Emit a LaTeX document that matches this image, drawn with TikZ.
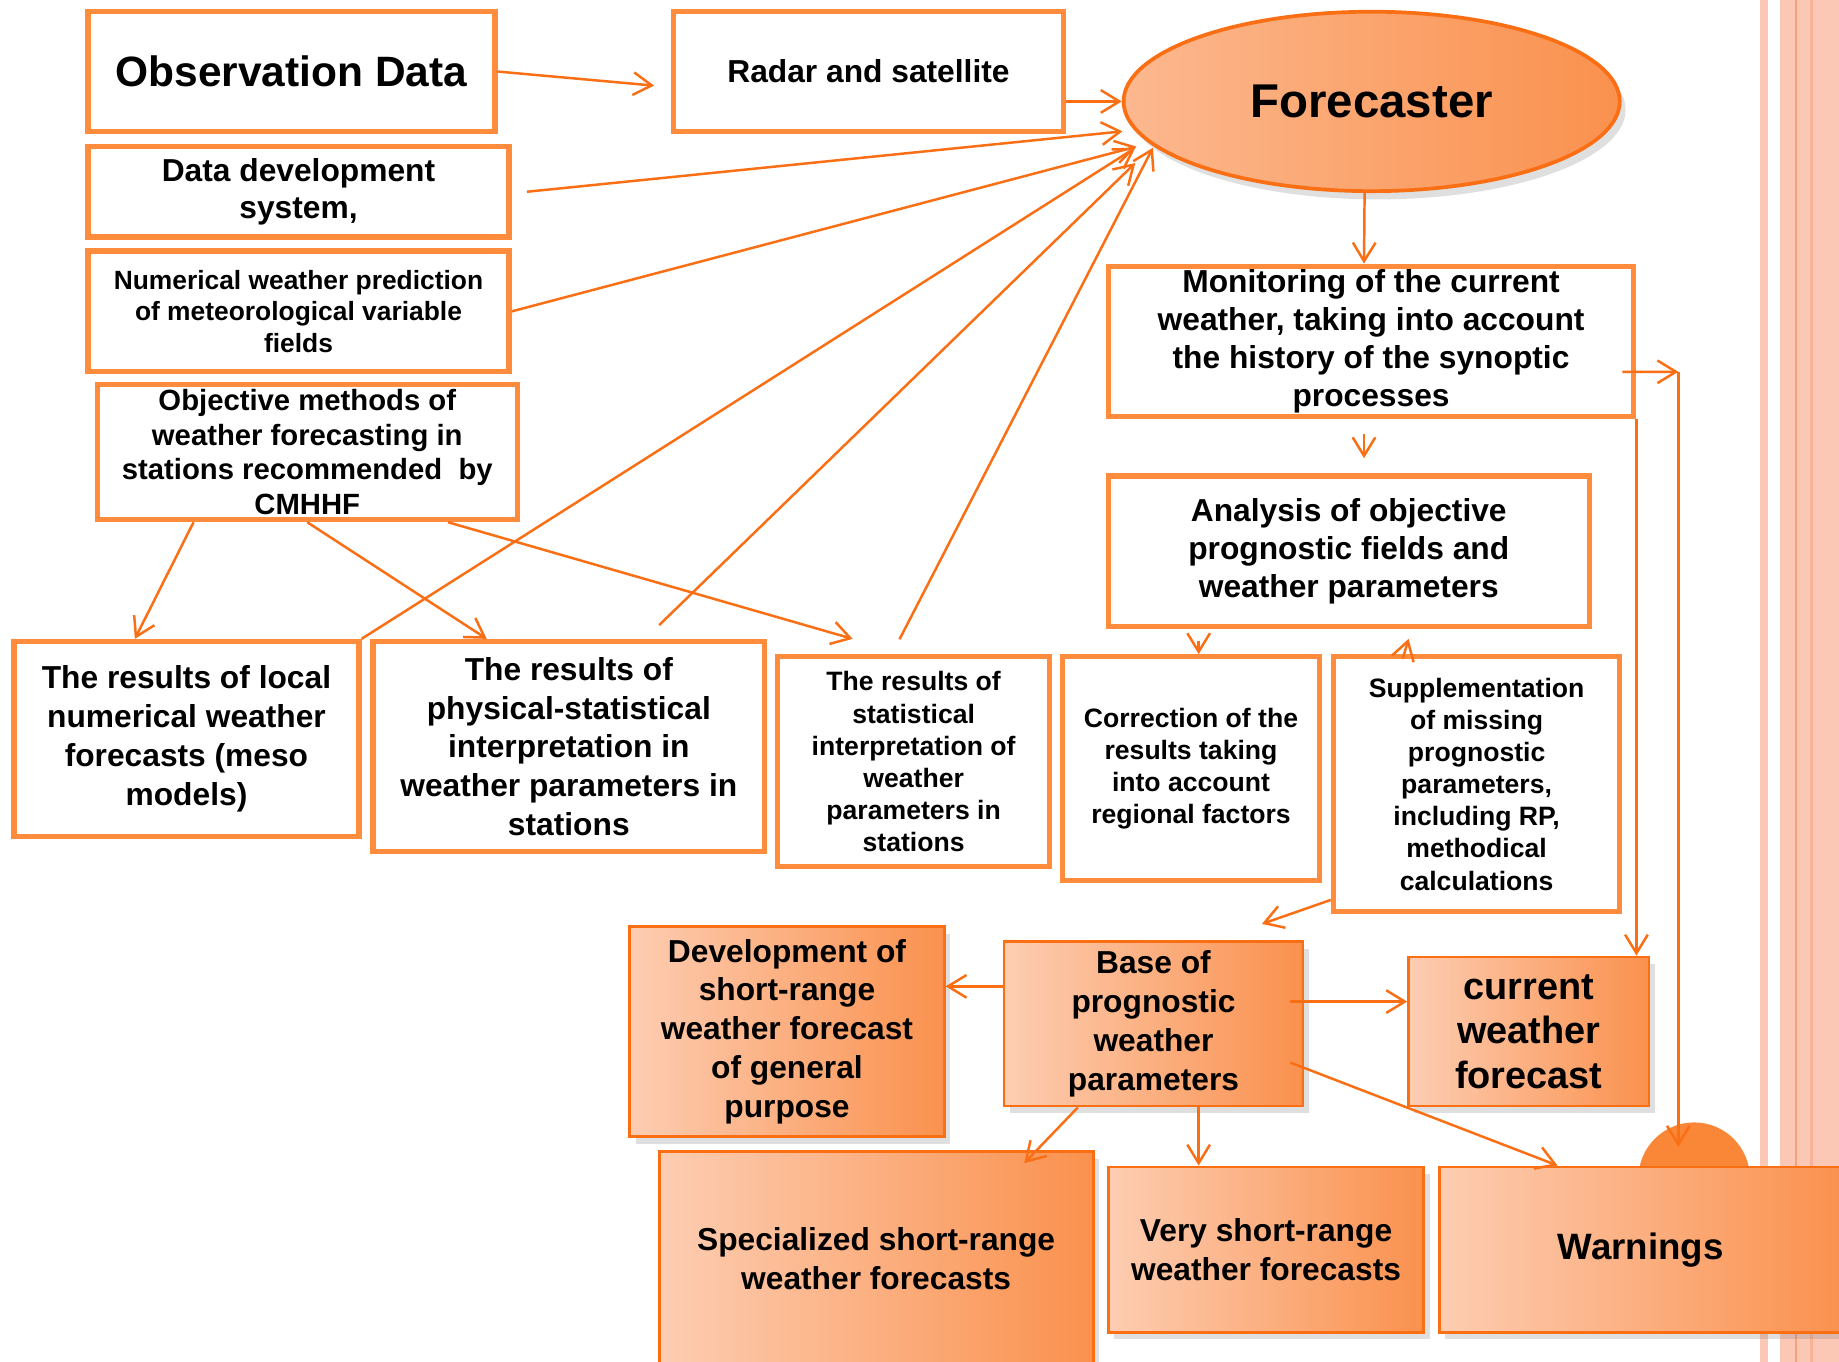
\documentclass[tikz,border=0pt]{standalone}
\usepackage{fontspec}
\setmainfont{Liberation Sans}
\usetikzlibrary{shapes.geometric, arrows.meta, shadows}
\definecolor{wxorange}{RGB}{255,140,60}
\definecolor{wxline}{RGB}{250,110,20}
\definecolor{wxlight}{RGB}{253,205,178}
\definecolor{wxdark}{RGB}{250,145,78}
\definecolor{wxbump}{RGB}{250,135,55}
\definecolor{wxpink}{RGB}{251,200,182}
\definecolor{wxrose}{RGB}{246,160,125}
\newcommand{\wxfont}[2]{\fontsize{#1}{#2}\selectfont\bfseries}
\tikzstyle{plainbox} = [rectangle, draw=wxorange, line width=1.3pt, fill=white, align=center, inner sep=1pt]
\tikzstyle{shadebox} = [rectangle, draw=wxline, line width=0.7pt, left color=wxlight, right color=wxdark, align=center, inner sep=1pt, drop shadow={opacity=0.25, shadow xshift=0.05cm, shadow yshift=-0.06cm}]
\tikzstyle{arrow} = [line width=0.6pt, -{Straight Barb[length=4.5pt,width=5.5pt]}, wxline]

\begin{document}
\begin{tikzpicture}
\useasboundingbox (0,0) rectangle (15.68,-11.61);
\clip (0,0) rectangle (15.68,-11.61);
\fill[white] (0,0) rectangle (15.68,-11.61);

% Side stripes
\fill[wxpink] (15.007,0) rectangle (15.075,-11.61);
\fill[wxpink] (15.177,0) rectangle (15.68,-11.61);
\draw[wxrose, line width=0.6pt] (15.314,0) -- (15.314,-11.61);
\fill[wxrose!55!wxpink] (15.433,0) rectangle (15.46,-11.61);
\fill[wxbump] (14.445,-10.045) circle (0.475);

% Sources
\node[plainbox, minimum width=3.47cm, minimum height=1.02cm, font=\wxfont{10.3}{12}] (obs) at (2.485,-0.61) {Observation Data};
\node[plainbox, minimum width=3.33cm, minimum height=1.02cm, font=\wxfont{7.7}{9.3}] (radar) at (7.405,-0.61) {Radar and satellite};
\node[plainbox, minimum width=3.59cm, minimum height=0.77cm, font=\wxfont{7.7}{9.1}] (datadev) at (2.545,-1.635) {Data development\\system,};
\node[plainbox, minimum width=3.59cm, minimum height=1.03cm, font=\wxfont{6.4}{7.7}] (nwp) at (2.545,-2.655) {Numerical weather prediction\\of meteorological variable\\fields};
\node[plainbox, minimum width=3.58cm, minimum height=1.15cm, inner ysep=0pt, font=\wxfont{7.1}{8.4}] (objective) at (2.62,-3.855) {Objective methods of\\weather forecasting in\\stations recommended\ \ by\\CMHHF};

% Forecaster
\node[ellipse, draw=wxline, line width=0.9pt, left color=wxdark!35!wxlight, middle color=wxlight, right color=wxdark, minimum width=4.23cm, minimum height=1.53cm, drop shadow={opacity=0.25, shadow xshift=0.05cm, shadow yshift=-0.07cm}, font=\wxfont{11.5}{13}] (forecaster) at (11.695,-0.865) {Forecaster};

% Results row
\node[plainbox, minimum width=2.94cm, minimum height=1.66cm, font=\wxfont{7.7}{9.4}] (local) at (1.59,-6.30) {The results of local\\numerical weather\\forecasts (meso\\models)};
\node[plainbox, minimum width=3.34cm, minimum height=1.79cm, font=\wxfont{7.7}{9.4}] (physstat) at (4.85,-6.365) {The results of\\physical-statistical\\interpretation in\\weather parameters in\\stations};
\node[plainbox, minimum width=2.32cm, minimum height=1.79cm, font=\wxfont{6.45}{7.8}] (stat) at (7.79,-6.495) {The results of\\statistical\\interpretation of\\weather\\parameters in\\stations};
\node[plainbox, minimum width=2.19cm, minimum height=1.91cm, font=\wxfont{6.45}{7.8}] (correction) at (10.155,-6.555) {Correction of the\\results taking\\into account\\regional factors};
\node[plainbox, minimum width=2.44cm, minimum height=2.17cm, font=\wxfont{6.45}{7.8}] (supplement) at (12.59,-6.685) {Supplementation\\of missing\\prognostic\\parameters,\\including RP,\\methodical\\calculations};

% Right column
\node[plainbox, minimum width=4.48cm, minimum height=1.28cm, inner ysep=0pt, font=\wxfont{7.7}{9.25}] (monitoring) at (11.69,-2.91) {Monitoring of the current\\weather, taking into account\\the history of the synoptic\\processes};
\node[plainbox, minimum width=4.10cm, minimum height=1.28cm, font=\wxfont{7.7}{9.25}] (analysis) at (11.50,-4.70) {Analysis of objective\\prognostic fields and\\weather parameters};

% Products
\node[shadebox, minimum width=2.68cm, minimum height=1.79cm, font=\wxfont{7.7}{9.4}] (devgen) at (6.71,-8.795) {Development of\\short-range\\weather forecast\\of general\\purpose};
\node[shadebox, minimum width=2.55cm, minimum height=1.40cm, font=\wxfont{7.7}{9.4}] (base) at (9.835,-8.73) {Base of\\prognostic\\weather\\parameters};
\node[shadebox, minimum width=2.05cm, minimum height=1.27cm, font=\wxfont{9.2}{10.8}] (current) at (13.035,-8.795) {current\\weather\\forecast};
\node[shadebox, minimum width=3.70cm, minimum height=1.82cm, font=\wxfont{7.7}{9.4}] (special) at (7.47,-10.73) {Specialized short-range\\weather forecasts};
\node[shadebox, minimum width=2.69cm, minimum height=1.41cm, font=\wxfont{7.7}{9.4}] (veryshort) at (10.795,-10.655) {Very short-range\\weather forecasts};
\node[shadebox, minimum width=3.44cm, minimum height=1.41cm, font=\wxfont{8.9}{10.5}] (warnings) at (13.99,-10.655) {Warnings};

% Inputs to the forecaster
\coordinate (tipdata) at (9.57,-1.12);
\coordinate (tipnwp) at (9.69,-1.25);
\coordinate (tiplocal) at (9.68,-1.26);
\coordinate (tipphys) at (9.68,-1.39);
\coordinate (tipstat) at (9.83,-1.26);
\coordinate (srcphys) at (5.62,-5.33);
\coordinate (srcstat) at (7.67,-5.45);
\draw[arrow] (obs.east) -- ([shift={(-0.14,-0.12)}]radar.west);
\draw[arrow] (radar.east |- forecaster.west) -- (forecaster.west);
\draw[arrow] ([xshift=0.13cm]datadev.east) -- (tipdata);
\draw[arrow] (nwp.east) -- (tipnwp);
\draw[arrow] (local.north east) -- (tiplocal);
\draw[arrow] (srcphys) -- (tipphys);
\draw[arrow] (srcstat) -- (tipstat);

% Objective methods to results
\draw[arrow] ([xshift=-0.97cm]objective.south) -- ([xshift=-0.44cm]local.north);
\draw[arrow] (objective.south) -- ([xshift=-0.70cm]physstat.north);
\draw[arrow] ([xshift=1.20cm]objective.south) -- ([shift={(-0.52,0.13)}]stat.north);

% Forecaster chain
\draw[arrow] ([xshift=-0.06cm]forecaster.south) -- ([xshift=-0.06cm]monitoring.north);
\draw[arrow, shorten <=0.13cm, shorten >=0.13cm] ([xshift=-0.06cm]monitoring.south) -- ([xshift=-0.06cm]monitoring.south |- analysis.north);
\draw[arrow, shorten <=0.1cm] ([xshift=0.065cm]correction.north |- analysis.south) -- ([xshift=0.065cm]correction.north);
\draw[arrow] ([shift={(-0.63,-0.04)}]supplement.north) -- ([shift={(-0.58,0.13)}]supplement.north);
\draw[arrow] ([yshift=0.12cm]supplement.south west) -- ([shift={(0.925,0.14)}]base.north);
\coordinate (mright) at (14.31,-3.17);
\draw[arrow] ([shift={(-0.12,-0.26)}]monitoring.east) -- (mright);
\draw[arrow] (mright) -- ([yshift=0.16cm]warnings.north -| mright);
\draw[arrow] (monitoring.south east) -- (monitoring.south east |- current.north);

% Base outputs
\draw[arrow] ([yshift=0.32cm]base.west) -- ([yshift=0.32cm]base.west -| devgen.east);
\draw[arrow] ([shift={(-0.12,0.19)}]base.east) -- ([yshift=0.19cm]base.east -| current.west);
\draw[arrow] ([shift={(-0.12,-0.33)}]base.east) -- ([xshift=-0.71cm]warnings.north);
\draw[arrow] ([xshift=-0.645cm]base.south) -- ([shift={(-0.60,-0.11)}]special.north east);
\draw[arrow] ([xshift=0.385cm]base.south) -- ([xshift=0.385cm]base.south |- veryshort.north);
\end{tikzpicture}
\end{document}
